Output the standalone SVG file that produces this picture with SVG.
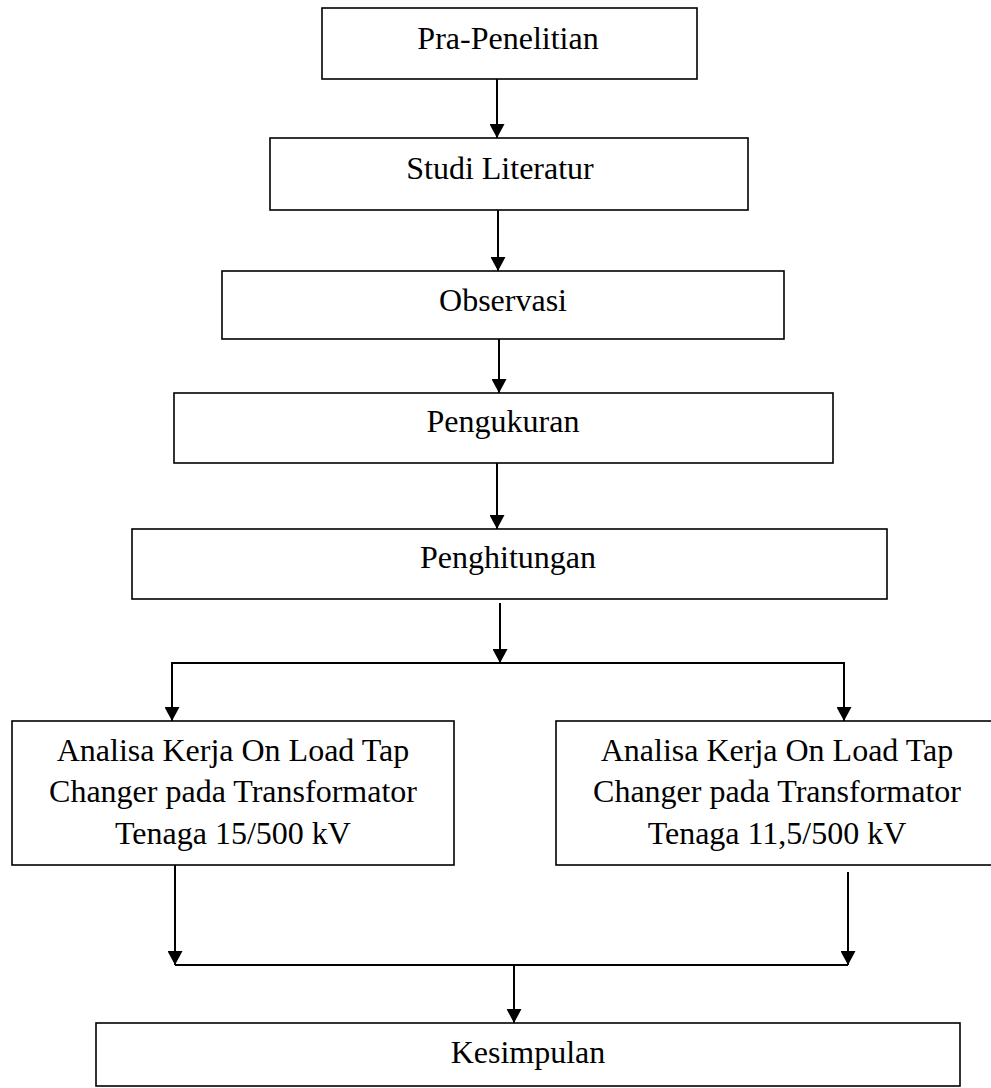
<svg xmlns="http://www.w3.org/2000/svg" width="991" height="1088" viewBox="0 0 991 1088">
<style>
.box{fill:#fff;stroke:#000;stroke-width:1.6}
.t{font-family:"Liberation Serif","Times New Roman",serif;font-size:32px;fill:#000;text-anchor:middle}
.c{fill:none;stroke:#000;stroke-width:2}
</style>
<defs>
<marker id="ah" markerUnits="userSpaceOnUse" markerWidth="15" markerHeight="15" refX="14" refY="7.5" orient="auto">
<path d="M0,0 L14,7.5 L0,15 z" fill="#000"/>
</marker>
</defs>
<rect width="991" height="1088" fill="#fff"/>
<g id="connectors">
<line class="c" x1="497" y1="79" x2="497" y2="138" marker-end="url(#ah)"/>
<line class="c" x1="498" y1="210" x2="498" y2="271" marker-end="url(#ah)"/>
<line class="c" x1="499" y1="339" x2="499" y2="393" marker-end="url(#ah)"/>
<line class="c" x1="497" y1="463" x2="497" y2="529" marker-end="url(#ah)"/>
<line class="c" x1="500" y1="603" x2="500" y2="663" marker-end="url(#ah)"/>
<line class="c" x1="171" y1="663" x2="845" y2="663"/>
<line class="c" x1="172" y1="663" x2="172" y2="721" marker-end="url(#ah)"/>
<line class="c" x1="844" y1="663" x2="844" y2="721" marker-end="url(#ah)"/>
<line class="c" x1="175" y1="865" x2="175" y2="965" marker-end="url(#ah)"/>
<line class="c" x1="848" y1="872" x2="848" y2="965" marker-end="url(#ah)"/>
<line class="c" x1="175" y1="965" x2="848" y2="965"/>
<line class="c" x1="514" y1="965" x2="514" y2="1023" marker-end="url(#ah)"/>
</g>
<g id="pra">
<rect class="box" x="322" y="8" width="375" height="71"/>
<text class="t" x="508" y="49">Pra-Penelitian</text>
</g>
<g id="studi">
<rect class="box" x="270" y="138" width="478" height="72"/>
<text class="t" x="500" y="179">Studi Literatur</text>
</g>
<g id="observasi">
<rect class="box" x="222" y="271" width="562" height="68"/>
<text class="t" x="503" y="311">Observasi</text>
</g>
<g id="pengukuran">
<rect class="box" x="174" y="393" width="659" height="70"/>
<text class="t" x="503" y="432">Pengukuran</text>
</g>
<g id="penghitungan">
<rect class="box" x="132" y="529" width="755" height="70"/>
<text class="t" x="508" y="568">Penghitungan</text>
</g>
<g id="analisa1">
<rect class="box" x="12" y="721" width="442" height="144"/>
<text class="t" x="233" y="761">Analisa Kerja On Load Tap</text>
<text class="t" x="233" y="802">Changer pada Transformator</text>
<text class="t" x="233" y="844">Tenaga 15/500 kV</text>
</g>
<g id="analisa2">
<rect class="box" x="556" y="721" width="442" height="144"/>
<text class="t" x="777" y="761">Analisa Kerja On Load Tap</text>
<text class="t" x="777" y="802">Changer pada Transformator</text>
<text class="t" x="777" y="844">Tenaga 11,5/500 kV</text>
</g>
<g id="kesimpulan">
<rect class="box" x="96" y="1023" width="864" height="63"/>
<text class="t" x="528" y="1063">Kesimpulan</text>
</g>
</svg>
